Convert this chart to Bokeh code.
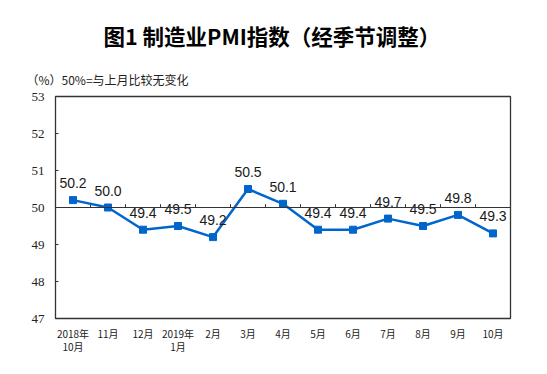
from bokeh.plotting import figure
from bokeh.models import Range1d, FixedTicker, Span, Title, ColumnDataSource
from bokeh.core.properties import value
from bokeh.embed import file_html
from bokeh.resources import INLINE

# ---- data ----
months = ["2018年\n10月", "11月", "12月", "2019年\n1月", "2月", "3月", "4月",
          "5月", "6月", "7月", "8月", "9月", "10月"]
pmi = [50.2, 50.0, 49.4, 49.5, 49.2, 50.5, 50.1, 49.4, 49.4, 49.7, 49.5, 49.8, 49.3]
y_ticks = [47, 48, 49, 50, 51, 52, 53]
title_text = "图1 制造业PMI指数（经季节调整）"
note_text = "（%）50%=与上月比较无变化"

idx = list(range(len(months)))
BLUE = "#0066cc"

p = figure(width=547, height=374, output_backend="svg", toolbar_location=None,
           x_range=Range1d(-0.5, len(months) - 0.5), y_range=Range1d(47, 53),
           min_border_left=55, min_border_right=37, min_border_top=96,
           min_border_bottom=56)
p.xgrid.visible = False
p.ygrid.visible = False
p.background_fill_color = "white"
p.border_fill_color = "white"
p.outline_line_color = "#333333"
p.outline_line_width = 1.3

# titles (later-added "above" items sit nearer the frame)
p.title.text = title_text
p.title.align = "left"
p.title.offset = 48
p.title.standoff = 18
p.title.text_font = "Noto Sans CJK SC"
p.title.text_font_size = "21.5px"
p.title.text_font_style = "bold"
p.title.text_color = "#000000"
p.add_layout(Title(text=note_text, align="left", offset=-29, standoff=18,
                   text_font="Noto Sans CJK SC", text_font_size="12px",
                   text_font_style="normal", text_color="#222222"), "above")

# y axis
p.yaxis.ticker = FixedTicker(ticks=y_ticks)
p.yaxis.axis_line_color = None
p.yaxis.major_tick_in = 3
p.yaxis.major_tick_out = 0
p.yaxis.major_tick_line_color = "#333333"
p.yaxis.minor_tick_line_color = None
p.yaxis.major_label_text_font = "Liberation Serif"
p.yaxis.major_label_text_font_size = "13px"
p.yaxis.major_label_text_color = "#222222"
p.yaxis.major_label_standoff = 11

# x axis (category labels)
p.xaxis.ticker = FixedTicker(ticks=idx)
p.xaxis.major_label_overrides = {i: m for i, m in zip(idx, months)}
p.xaxis.axis_line_color = None
p.xaxis.major_tick_line_color = None
p.xaxis.minor_tick_line_color = None
p.xaxis.major_label_text_font = "Noto Sans CJK SC"
p.xaxis.major_label_text_font_size = "10px"
p.xaxis.major_label_text_color = "#222222"
p.xaxis.major_label_text_line_height = 0.9
p.xaxis.major_label_standoff = 1

# 50 reference line with category boundary ticks
p.add_layout(Span(location=50, dimension="width", line_color="#333333", line_width=1))
bounds = [i + 0.5 for i in idx[:-1]]
p.segment(x0=bounds, y0=[50] * len(bounds), x1=bounds, y1=[50.09] * len(bounds),
          line_color="#333333", line_width=1)

src = ColumnDataSource(dict(x=idx, y=pmi, t=[f"{v:.1f}" for v in pmi]))
p.line("x", "y", source=src, line_color=BLUE, line_width=2.5)
p.scatter("x", "y", source=src, marker="square", size=7, fill_color=BLUE, line_color=BLUE)
p.text("x", "y", text="t", source=src, y_offset=-17, text_align="center",
       text_baseline="middle", text_font=value("Liberation Sans"),
       text_font_size="14px", text_color="#1a1a1a")

open("out.html", "w").write(file_html(p, INLINE))
